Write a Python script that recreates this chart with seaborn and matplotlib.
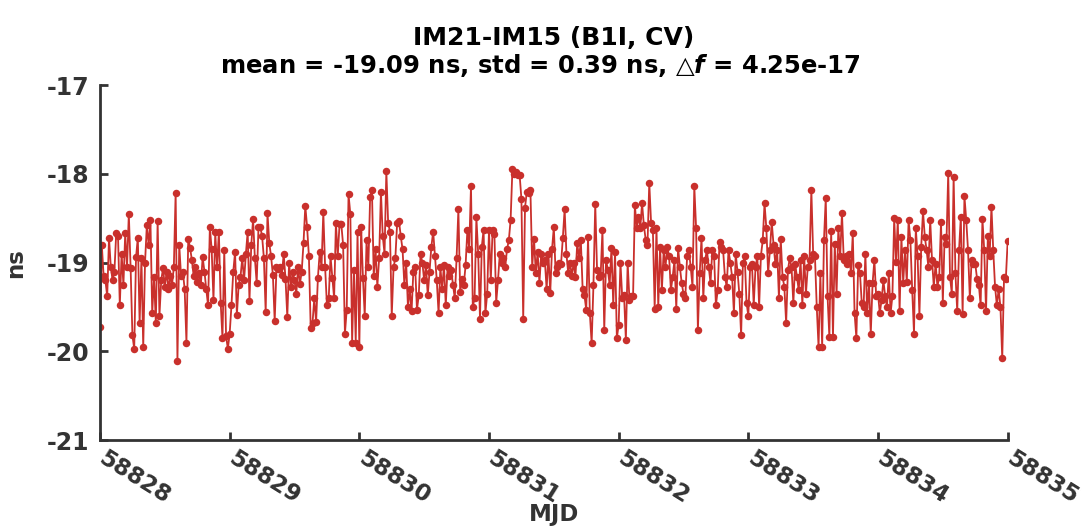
import numpy as np
import pandas as pd
import matplotlib
matplotlib.use("Agg")
import matplotlib.pyplot as plt
import matplotlib.transforms as mtransforms
import seaborn as sns

# ---------------- data ----------------
mjd_start = 58828.0
samples_per_day = 72

day1 = [-19.72, -18.80, -19.15, -19.20, -19.38, -18.72, -19.05, -19.20, -19.10, -18.67,
        -18.70, -19.48, -18.90, -19.25, -18.67, -19.05, -18.45, -19.06, -19.82, -19.97,
        -18.94, -18.72, -19.68, -18.95, -19.95, -19.00, -18.58, -18.80, -18.52, -19.57,
        -19.16, -19.68, -18.53, -19.60, -19.20, -19.06, -19.27, -19.10, -19.30, -19.15,
        -19.25, -19.05, -18.21, -20.11, -18.80, -19.15, -19.10, -19.30, -19.90, -18.73,
        -18.83, -18.97, -19.15, -19.05, -19.22, -19.12, -19.25, -18.94, -19.10, -19.30,
        -19.48, -18.60, -18.85, -19.42, -18.66, -19.05, -18.65, -19.45, -19.85, -18.86,
        -19.83, -19.97]
day2 = [-19.80, -19.48, -19.10, -18.88, -19.59, -19.25, -19.16, -18.95, -19.20, -18.90,
        -18.65, -19.43, -18.80, -18.51, -18.95, -19.23, -18.60, -18.60, -18.70, -18.95,
        -19.56, -18.44, -18.78, -18.93, -19.14, -19.66, -19.05, -19.07, -19.05, -19.14,
        -18.90, -19.18, -19.61, -19.00, -19.27, -19.10, -19.20, -19.35, -19.05, -19.24,
        -19.10, -18.78, -18.36, -18.60, -18.93, -19.74, -19.68, -19.40, -19.67, -19.17,
        -18.88, -19.05, -18.43, -19.05, -19.48, -19.40, -18.93, -19.17, -19.40, -18.55,
        -18.93, -18.57, -18.57, -18.80, -19.80, -19.53, -18.23, -18.45, -19.90, -19.08,
        -19.90, -18.66]
day3 = [-19.95, -18.60, -19.17, -19.60, -18.75, -19.05, -18.26, -18.18, -19.15, -18.85,
        -19.27, -18.95, -18.20, -18.70, -18.90, -17.97, -18.55, -18.65, -19.60, -19.05,
        -18.95, -18.55, -18.53, -18.70, -18.85, -19.25, -19.00, -19.50, -19.30, -19.55,
        -19.10, -19.05, -19.53, -19.37, -18.90, -19.00, -19.20, -19.03, -19.37, -19.10,
        -18.82, -18.65, -18.92, -19.20, -19.57, -19.05, -19.30, -19.03, -19.48, -19.05,
        -19.15, -19.08, -19.25, -19.40, -18.95, -18.40, -19.33, -19.18, -19.25, -19.03,
        -18.63, -18.85, -18.14, -19.50, -19.40, -18.49, -18.90, -19.63, -18.82, -18.63,
        -19.57, -19.35]
day4 = [-18.63, -19.20, -18.63, -18.68, -19.45, -19.20, -18.90, -19.00, -18.95, -19.05,
        -18.85, -18.75, -18.52, -17.95, -18.00, -17.98, -18.01, -18.01, -18.28, -19.63,
        -18.38, -18.20, -18.22, -18.18, -19.05, -18.73, -19.12, -18.88, -19.23, -18.90,
        -19.00, -18.97, -19.30, -18.90, -19.34, -18.85, -18.60, -19.12, -19.05, -19.00,
        -19.02, -18.72, -18.40, -18.90, -19.12, -19.00, -19.15, -19.00, -19.16, -18.78,
        -18.95, -18.75, -19.30, -19.37, -19.53, -18.71, -19.57, -19.91, -19.25, -18.34,
        -19.08, -19.16, -19.14, -18.63, -19.76, -18.97, -19.08, -19.25, -18.83, -19.48,
        -18.88, -19.85]
day5 = [-19.70, -19.00, -19.40, -19.37, -19.87, -19.00, -19.42, -19.38, -19.38, -18.35,
        -18.61, -18.48, -18.61, -18.33, -18.58, -18.74, -18.80, -18.10, -18.55, -18.63,
        -19.52, -18.61, -19.50, -18.82, -19.31, -18.86, -19.05, -18.82, -18.93, -19.31,
        -19.16, -18.97, -19.52, -18.83, -19.05, -19.23, -19.35, -19.40, -18.93, -18.86,
        -19.05, -19.27, -18.14, -18.61, -19.76, -19.12, -18.72, -19.40, -18.97, -18.86,
        -19.05, -19.23, -18.86, -18.93, -19.48, -19.31, -18.77, -18.82, -18.86, -19.16,
        -19.27, -18.86, -19.00, -19.16, -19.57, -18.90, -19.10, -19.35, -19.82, -19.00,
        -18.93, -19.45]
day6 = [-19.60, -19.05, -19.01, -19.48, -19.05, -18.93, -19.50, -18.92, -18.75, -18.33,
        -18.61, -19.12, -18.86, -18.54, -18.80, -19.01, -18.86, -19.40, -18.73, -19.16,
        -19.27, -19.68, -19.08, -18.95, -19.05, -19.46, -19.01, -19.16, -19.31, -18.97,
        -19.48, -18.92, -19.35, -19.05, -18.97, -18.18, -18.90, -18.93, -19.50, -19.95,
        -19.12, -19.95, -18.75, -18.27, -19.38, -19.84, -18.64, -19.84, -18.79, -19.35,
        -18.61, -18.93, -18.44, -18.97, -18.93, -19.01, -18.90, -19.12, -18.67, -19.57,
        -19.85, -19.03, -19.12, -19.46, -19.50, -18.90, -19.57, -19.23, -19.80, -19.23,
        -18.97, -19.38]
day7 = [-19.35, -19.57, -19.42, -19.20, -19.38, -19.50, -19.12, -19.57, -19.38, -18.50,
        -18.99, -18.52, -19.55, -18.71, -19.23, -18.86, -19.22, -18.52, -18.75, -19.31,
        -19.80, -18.61, -18.93, -19.60, -18.82, -18.42, -18.71, -18.86, -19.05, -18.52,
        -18.97, -19.27, -19.01, -19.27, -19.16, -18.54, -19.45, -18.71, -18.79, -17.99,
        -19.16, -19.35, -18.03, -19.12, -19.55, -18.86, -18.48, -19.58, -18.25, -18.52,
        -18.86, -19.40, -18.97, -19.01, -19.01, -19.18, -19.25, -19.48, -18.51, -18.86,
        -19.55, -18.70, -18.93, -18.37, -18.86, -19.27, -19.48, -19.30, -19.50, -20.08,
        -19.16, -19.18]
last_value = [-18.76]

y_ticks = [-21, -20, -19, -18, -17]
x_ticks = [58828, 58829, 58830, 58831, 58832, 58833, 58834, 58835]

title_line1 = "IM21-IM15 (B1I, CV)"
title_line2 = r"mean = -19.09 ns, std = 0.39 ns, △$\mathbfit{f}$ = 4.25e-17"

values = np.concatenate([day1, day2, day3, day4, day5, day6, day7, last_value])
mjd = mjd_start + np.arange(len(values)) / samples_per_day
df = pd.DataFrame({"MJD": mjd, "ns": values})

# ---------------- style ----------------
sns.set_theme(style="white")
plt.rcParams["font.family"] = ["DejaVu Sans"]
plt.rcParams["font.weight"] = "bold"
plt.rcParams["mathtext.fontset"] = "dejavusans"

red = "#C9302C"
dark = "#333333"

fig = plt.figure(figsize=(10.87, 5.29), dpi=100)
ax = fig.add_axes([0.092, 0.168, 0.835, 0.671])

sns.lineplot(data=df, x="MJD", y="ns", ax=ax, color=red, linewidth=1.3,
             marker="o", markersize=5.4, markeredgewidth=0, markerfacecolor=red)

ax.set_xlim(x_ticks[0], x_ticks[-1])
ax.set_ylim(y_ticks[0], y_ticks[-1])
ax.set_xticks(x_ticks)
ax.set_yticks(y_ticks)
ax.set_yticklabels([str(t) for t in y_ticks], fontsize=17, fontweight="bold", color=dark)
ax.set_xticklabels([])

# rotated x tick labels, anchored just right of each tick
label_tr = mtransforms.offset_copy(ax.get_xaxis_transform(), fig=fig,
                                   x=5, y=-5, units="points")
for t in x_ticks:
    ax.text(t, 0, str(t), transform=label_tr, fontsize=16.5, fontweight="bold",
            color=dark, rotation=-32, ha="left", va="top",
            rotation_mode="anchor", clip_on=False)

for s in ["top", "right"]:
    ax.spines[s].set_visible(False)
for s in ["left", "bottom"]:
    ax.spines[s].set_color(dark)
    ax.spines[s].set_linewidth(2.0)

ax.tick_params(axis="both", direction="in", length=6, width=2, color=dark,
               left=True, bottom=True)
ax.tick_params(axis="y", pad=8)

ax.set_xlabel("MJD", fontsize=16.5, fontweight="bold", color=dark)
ax.set_ylabel("ns", fontsize=16.5, fontweight="bold", color=dark, labelpad=14)
ax.xaxis.set_label_coords(0.5, -0.178)

cx = 0.092 + 0.835 / 2
fig.text(cx, 0.928, title_line1, ha="center", va="center", fontsize=18,
         fontweight="bold", color="black")
fig.text(cx - 0.012, 0.877, title_line2, ha="center", va="center", fontsize=17.5,
         fontweight="bold", color="black")

fig.savefig("out.png", dpi=100, facecolor="white")
